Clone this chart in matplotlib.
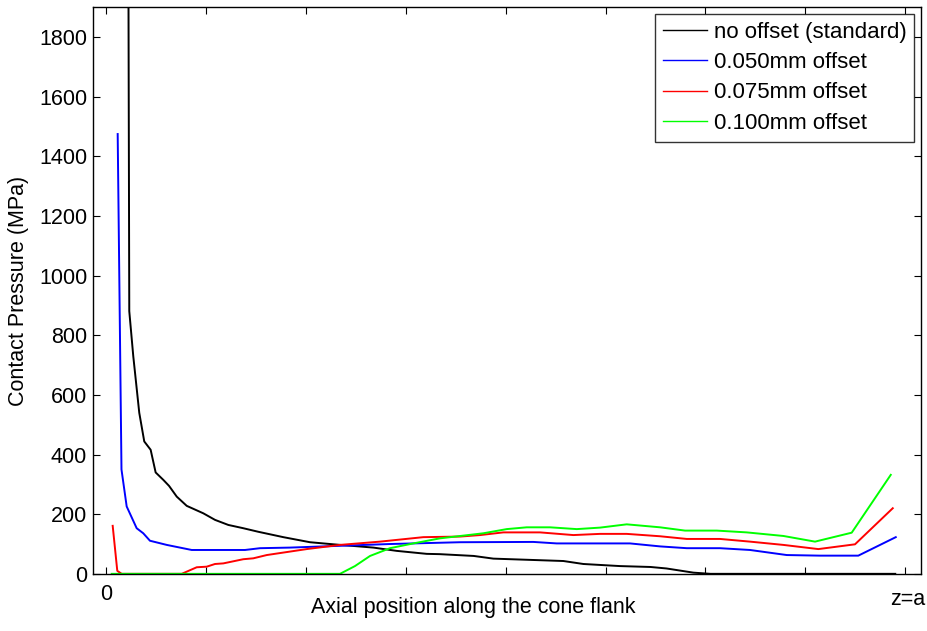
import numpy as np
import matplotlib
matplotlib.use('Agg')
import matplotlib.pyplot as plt

plt.rcParams['font.family'] = ['Liberation Sans', 'DejaVu Sans']

# x in tick units: 0 = cone start, 8 = z=a
x_std = [0.22, 0.233, 0.273, 0.333, 0.383, 0.447, 0.497, 0.574, 0.631, 0.708, 0.808, 0.974, 1.091,
         1.224, 1.374, 1.525, 1.775, 2.042, 2.275, 2.676, 2.910, 3.210, 3.34, 3.68, 3.877, 4.578,
         4.778, 5.145, 5.45, 5.61, 5.879, 6.05, 7.9]
p_std = [2600, 881, 730, 540, 444, 416, 340, 315, 295, 259, 228, 203, 181,
         164, 153, 141, 123, 106, 99, 88, 77, 67, 66, 60, 51, 43,
         33, 26, 23, 18, 4, 0, 0]

x_050 = [0.117, 0.155, 0.207, 0.307, 0.373, 0.440, 0.608, 0.858, 1.391, 1.542, 1.842, 2.342, 2.843,
         3.544, 4.277, 4.511, 5.245, 5.546, 5.813, 6.146, 6.446, 6.814, 7.147, 7.530, 7.905]
p_050 = [1475, 350, 226, 153, 136, 111, 97, 80, 80, 86, 88, 94, 100,
         106, 107, 102, 102, 92, 86, 86, 80, 63, 61, 61, 123]

x_075 = [0.067, 0.113, 0.157, 0.758, 0.908, 1.008, 1.091, 1.174, 1.374, 1.474, 1.609, 2.009, 2.342,
         2.743, 3.176, 3.544, 3.744, 3.977, 4.344, 4.678, 4.945, 5.212, 5.546, 5.813, 6.146, 6.446,
         6.780, 7.130, 7.497, 7.875]
p_075 = [161, 10, 0, 0, 22, 24, 33, 35, 49, 52, 63, 83, 97,
         108, 123, 125, 130, 139, 139, 130, 134, 134, 126, 117, 117, 108,
         97, 83, 99, 220]

x_100 = [0.057, 2.342, 2.492, 2.643, 2.843, 3.076, 3.343, 3.777, 4.011, 4.211, 4.444, 4.712, 4.945,
         5.212, 5.546, 5.796, 6.113, 6.413, 6.780, 7.097, 7.464, 7.855]
p_100 = [0, 0, 26, 60, 86, 102, 119, 136, 150, 156, 156, 150, 155,
         166, 156, 145, 145, 139, 127, 108, 138, 332]

labels = ['no offset (standard)', '0.050mm offset', '0.075mm offset', '0.100mm offset']

fig = plt.figure(figsize=(9.28, 6.31), dpi=100)
ax = fig.add_axes([0.0999, 0.0906, 0.8926, 0.8978])

ax.plot(x_std, p_std, color='black', lw=1.4, label=labels[0])
ax.plot(x_050, p_050, color='#0000ff', lw=1.4, label=labels[1])
ax.plot(x_075, p_075, color='#ff0000', lw=1.4, label=labels[2])
ax.plot(x_100, p_100, color='#00ff00', lw=1.4, label=labels[3])

ax.set_xlim(-0.133, 8.158)
ax.set_ylim(0, 1900)
ax.set_xticks(np.arange(0, 9))
ax.set_xticklabels(['0'] + [''] * 8)
ax.set_yticks(np.arange(0, 1801, 200))
ax.tick_params(direction='in', top=True, right=True, length=5, labelsize=15.5, width=0.8, pad=4)
ax.tick_params(axis='x', pad=7)
for s in ax.spines.values():
    s.set_linewidth(1.0)

ax.text(8.02, -85, 'z=a', ha='center', va='center', fontsize=15.5)
fig.text(0.51, 0.038, 'Axial position along the cone flank', ha='center', va='center', fontsize=15.5)
ax.set_ylabel('Contact Pressure (MPa)', fontsize=15.5)
ax.yaxis.set_label_coords(-0.077, 0.5)

leg = ax.legend(loc='upper right', fontsize=16, frameon=True, fancybox=False, handlelength=2.0,
                borderpad=0.35, labelspacing=0.42, handletextpad=0.3, borderaxespad=0.3)
leg.get_frame().set_edgecolor('black')
leg.get_frame().set_linewidth(1.0)
for line in leg.get_lines():
    line.set_linewidth(1.0)

fig.savefig('out.png', dpi=100)
